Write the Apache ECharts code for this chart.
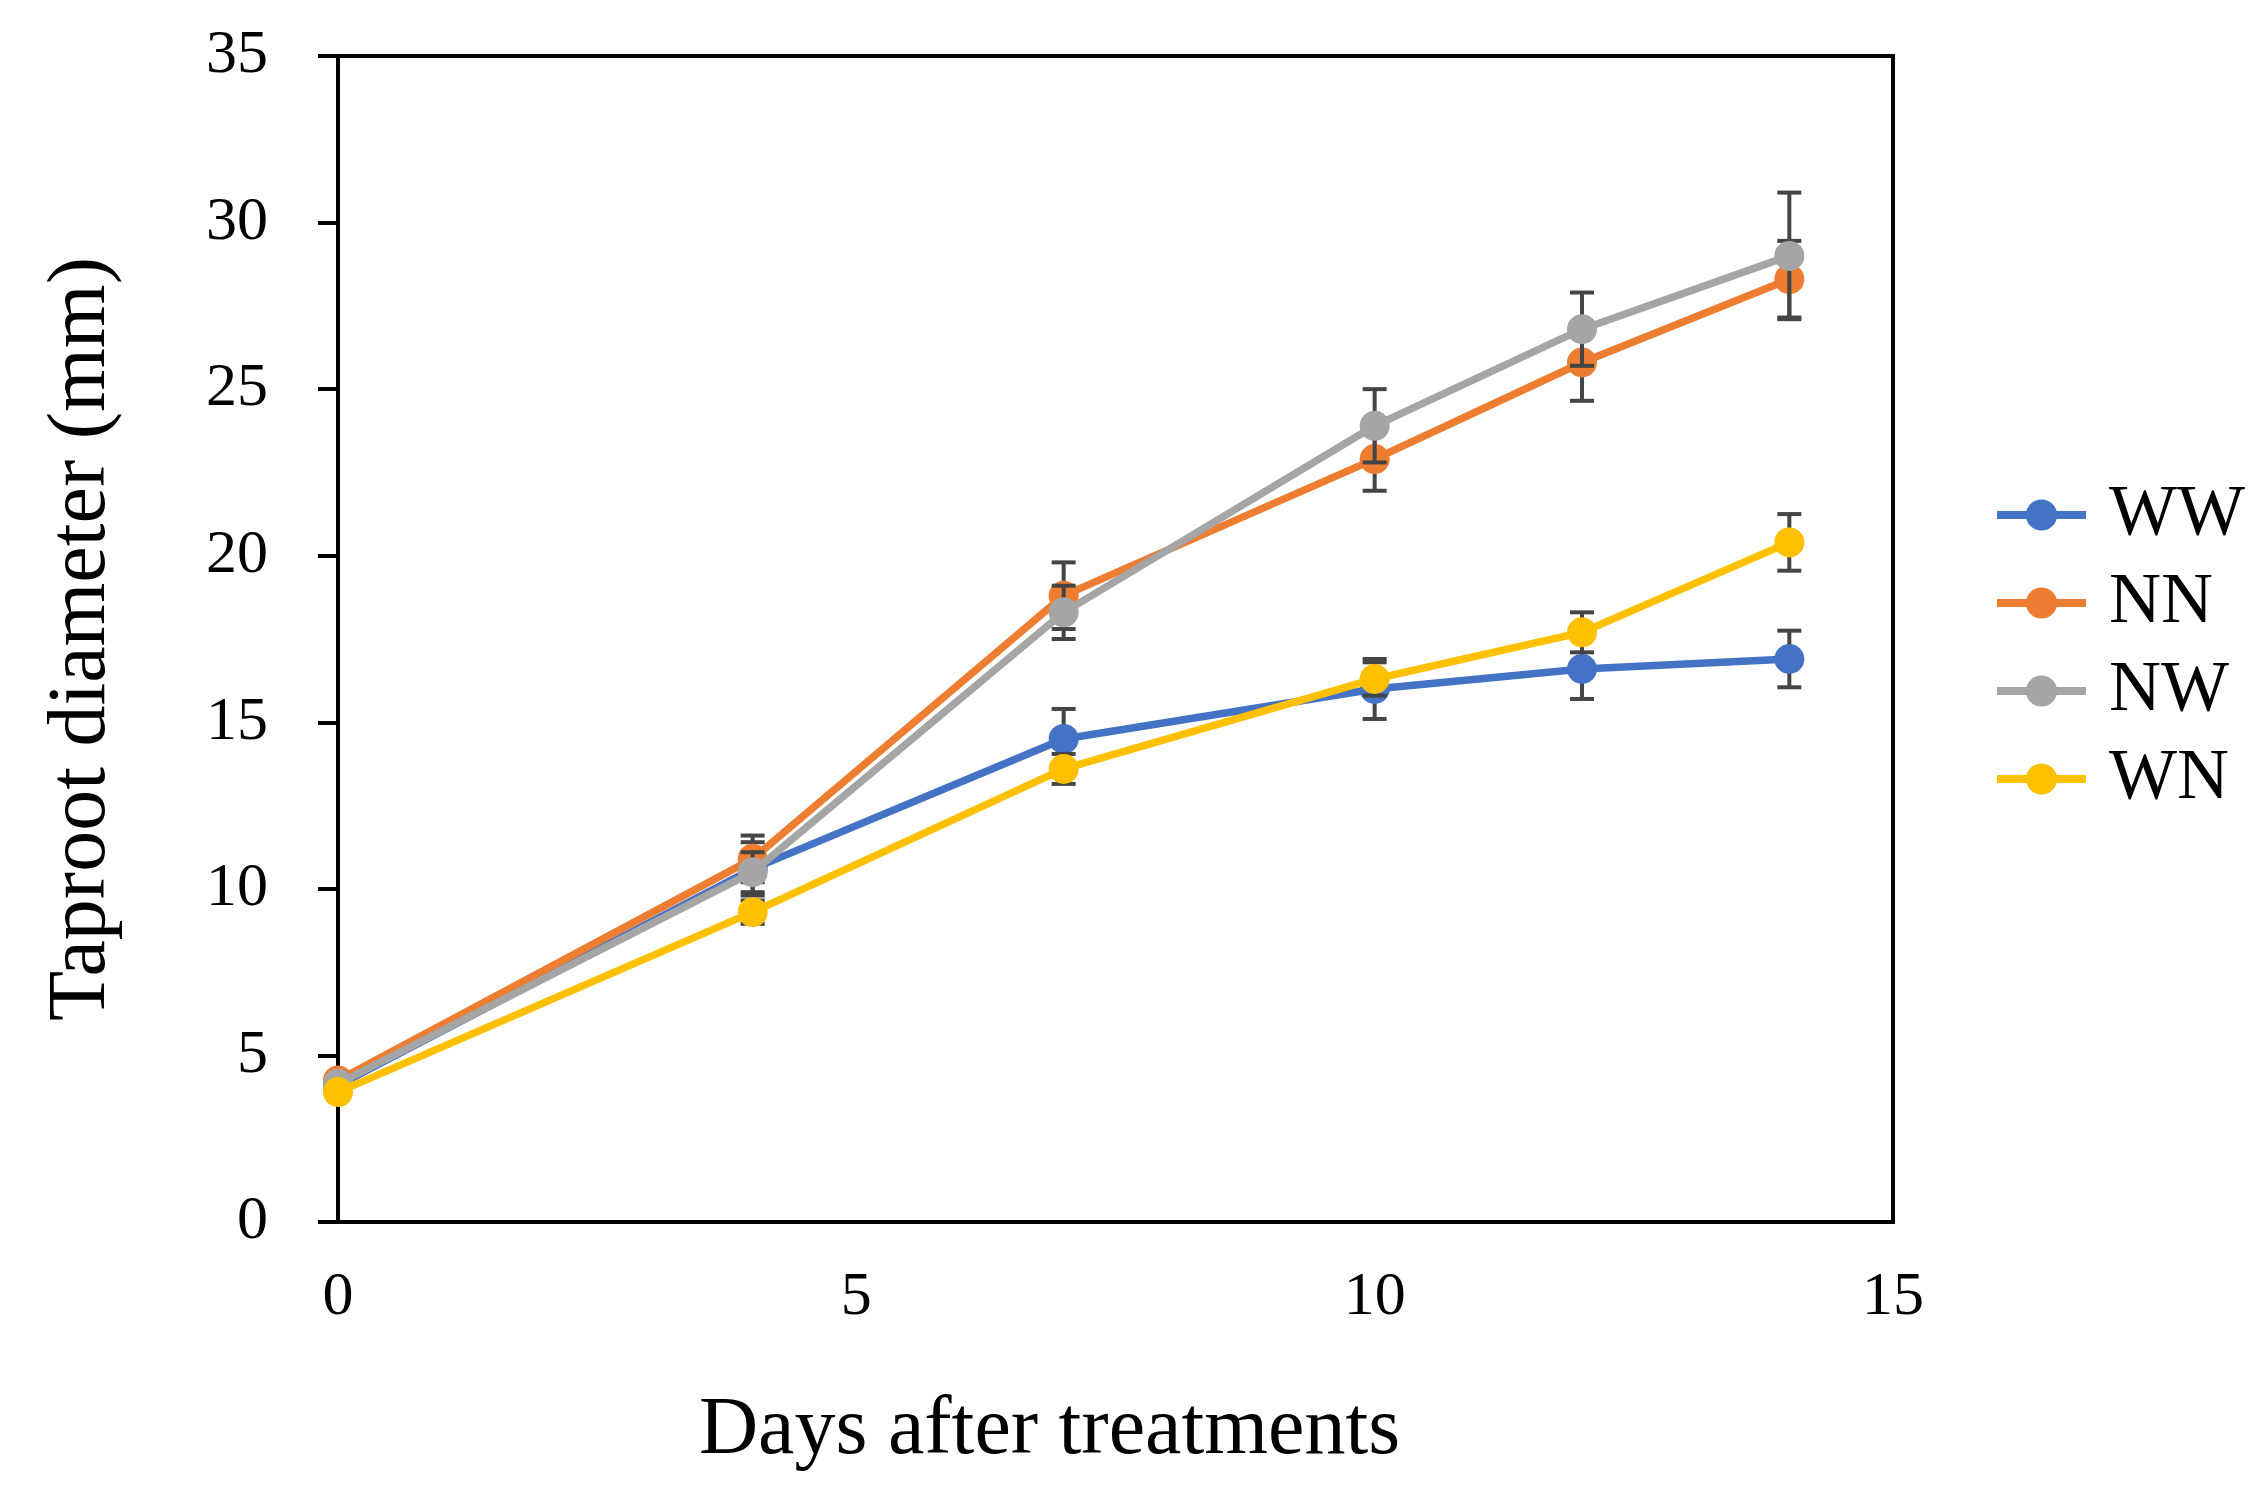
<!DOCTYPE html>
<html>
<head>
<meta charset="utf-8">
<script src="https://cdn.jsdelivr.net/npm/echarts@6/dist/echarts.min.js"></script>
<style>
html,body{margin:0;padding:0;background:#fff;}
#chart{width:2256px;height:1492px;}
</style>
</head>
<body>
<div id="chart"></div>
<script>
// ---- data ----
const days = [0, 4, 7, 10, 12, 14];
const seriesNames = ['WW', 'NN', 'NW', 'WN'];
const WW = [4.1, 10.6, 14.5, 16.0, 16.6, 16.9];
const NN = [4.25, 10.9, 18.8, 22.9, 25.8, 28.3];
const NW = [4.15, 10.5, 18.3, 23.9, 26.8, 29.0];
const WN = [3.9, 9.3, 13.6, 16.3, 17.7, 20.4];
const errWW = [0.2, 0.8, 0.9, 0.9, 0.9, 0.85];
const errNN = [0.2, 0.7, 1.0, 0.95, 1.15, 1.15];
const errNW = [0.2, 0.6, 0.8, 1.1, 1.1, 1.9];
const errWN = [0.2, 0.35, 0.45, 0.5, 0.6, 0.85];
const xTicks = [0, 5, 10, 15];
const yTicks = [0, 5, 10, 15, 20, 25, 30, 35];

const colors = ['#4472C4', '#ED7D31', '#A5A5A5', '#FFC000'];
const values = [WW, NN, NW, WN];
const errs = [errWW, errNN, errNW, errWN];
const FONT = '"Liberation Serif", "Times New Roman", serif';

const chart = echarts.init(document.getElementById('chart'));

const series = [];
values.forEach((vals, i) => {
  series.push({
    name: seriesNames[i] + '_err',
    type: 'custom',
    z: 1 + i * 3,
    silent: true,
    data: days.map((d, k) => [d, vals[k] - errs[i][k], vals[k] + errs[i][k]]),
    renderItem: function (params, api) {
      const x = api.value(0);
      const lo = api.coord([x, api.value(1)]);
      const hi = api.coord([x, api.value(2)]);
      const hw = 12;
      const st = { stroke: '#454545', lineWidth: 4 };
      return {
        type: 'group',
        children: [
          { type: 'line', shape: { x1: lo[0], y1: lo[1], x2: hi[0], y2: hi[1] }, style: st },
          { type: 'line', shape: { x1: lo[0] - hw, y1: lo[1], x2: lo[0] + hw, y2: lo[1] }, style: st },
          { type: 'line', shape: { x1: hi[0] - hw, y1: hi[1], x2: hi[0] + hw, y2: hi[1] }, style: st }
        ]
      };
    }
  });
});
values.forEach((vals, i) => {
  series.push({
    name: seriesNames[i],
    type: 'line',
    z: 2 + i * 3,
    data: days.map((d, k) => [d, vals[k]]),
    symbol: 'circle',
    symbolSize: 30,
    lineStyle: { color: colors[i], width: 7.5 },
    itemStyle: { color: colors[i] },
    emphasis: { disabled: true }
  });
});

chart.setOption({
  animation: false,
  backgroundColor: '#fff',
  grid: {
    left: 338, top: 56, width: 1555, height: 1166,
    show: true, borderColor: '#000', borderWidth: 4, backgroundColor: 'transparent'
  },
  legend: {
    data: seriesNames,
    orient: 'vertical',
    left: 1988,
    top: 474,
    itemWidth: 89,
    itemHeight: 39,
    itemGap: 16,
    lineStyle: { width: 8 },
    textStyle: { fontFamily: FONT, fontSize: 72, color: '#000', padding: [0, 0, 0, 18] }
  },
  xAxis: {
    type: 'value',
    min: 0, max: 15, interval: 5,
    name: 'Days after treatments',
    nameLocation: 'middle',
    nameGap: 168,
    nameTextStyle: { fontFamily: FONT, fontSize: 82, color: '#000', padding: [0, 132, 0, 0] },
    axisLine: { show: true, lineStyle: { color: '#000', width: 4 } },
    axisTick: { show: false },
    splitLine: { show: false },
    axisLabel: {
      fontFamily: FONT, fontSize: 62, color: '#000', margin: 45,
      customValues: xTicks
    }
  },
  yAxis: {
    type: 'value',
    min: 0, max: 35, interval: 5,
    name: 'Taproot diameter (mm)',
    nameLocation: 'middle',
    nameGap: 215,
    nameTextStyle: { fontFamily: FONT, fontSize: 82, color: '#000' },
    axisLine: { show: true, lineStyle: { color: '#000', width: 4 } },
    axisTick: { show: true, length: 20, lineStyle: { color: '#000', width: 4 } },
    splitLine: { show: false },
    axisLabel: {
      fontFamily: FONT, fontSize: 62, color: '#000', margin: 70
    }
  },
  series: series
});
</script>
</body>
</html>
